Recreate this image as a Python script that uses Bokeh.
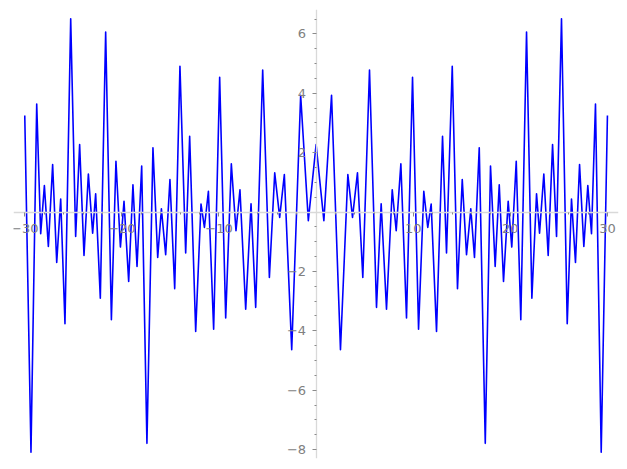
import numpy as np
from bokeh.plotting import figure
from bokeh.models import LinearAxis, FixedTicker
from bokeh.embed import file_html
from bokeh.resources import INLINE

# Local extrema of the (even) curve for x >= 0
x_half = [0.0, 0.80, 1.59, 2.51, 3.27, 3.75, 4.26, 4.81, 5.50, 6.22,
          6.70, 7.25, 7.84, 8.25, 8.73, 9.31, 9.93, 10.55, 11.09, 11.50,
          11.85, 12.40, 13.02, 13.43, 14.02, 14.56, 15.05, 15.49, 15.93, 16.31,
          16.80, 17.42, 17.96, 18.44, 18.86, 19.30, 19.78, 20.15, 20.61, 21.08,
          21.67, 22.22, 22.70, 23.01, 23.45, 23.90, 24.35, 24.76, 25.27, 25.86,
          26.30, 26.71, 27.13, 27.57, 27.98, 28.36, 28.77, 29.36, 30.0]
y_half = [2.27, -0.29, 3.93, -4.64, 1.26, -0.18, 1.32, -2.20, 4.78, -3.21,
          0.28, -3.27, 0.75, -0.63, 1.62, -3.57, 4.54, -3.95, 0.70, -0.52,
          0.27, -4.02, 2.55, -1.38, 4.91, -2.58, 1.09, -1.44, 0.11, -1.53,
          2.16, -7.79, 1.55, -1.83, 0.92, -2.34, 0.36, -1.18, 1.71, -3.63,
          6.06, -2.90, 0.61, -0.71, 1.28, -1.46, 2.27, -0.82, 6.51, -3.76,
          0.44, -1.70, 1.60, -1.16, 0.89, -0.73, 3.64, -8.09, 3.25]

x_ticks = [-30, -20, -10, 10, 20, 30]
x_minor = [-28, -26, -24, -22, -18, -16, -14, -12, -8, -6, -4, -2,
           2, 4, 6, 8, 12, 14, 16, 18, 22, 24, 26, 28]
y_ticks = [-8, -6, -4, -2, 2, 4, 6]
y_minor = [v / 2 for v in range(-16, 14) if v % 4 != 0]

# the curve is symmetric about x = 0
xs = np.concatenate([-np.array(x_half[:0:-1]), np.array(x_half)])
ys = np.concatenate([np.array(y_half[:0:-1]), np.array(y_half)])

p = figure(width=619, height=461, x_range=(-31.16, 31.14), y_range=(-8.30, 6.82),
           output_backend="svg", toolbar_location=None,
           x_axis_location=None, y_axis_location=None,
           min_border_left=13, min_border_right=1, min_border_top=9, min_border_bottom=3)
p.grid.visible = False
p.outline_line_color = None
p.background_fill_color = "white"

def style(ax):
    ax.axis_line_color = "#d9d9d9"
    ax.axis_line_width = 1.3
    ax.major_tick_line_color = "#8a8a8a"
    ax.minor_tick_line_color = "#8a8a8a"
    ax.major_tick_in = 0
    ax.major_tick_out = 4
    ax.minor_tick_in = 0
    ax.minor_tick_out = 2
    ax.major_label_text_color = "#808080"
    ax.major_label_text_font = "DejaVu Sans"
    ax.major_label_text_font_size = "13px"

def lbl(v):
    return ("\u2212" + str(-v)) if v < 0 else str(v)

xaxis = LinearAxis(fixed_location=0, ticker=FixedTicker(ticks=x_ticks, minor_ticks=x_minor),
                   major_label_overrides={v: lbl(v) for v in x_ticks})
style(xaxis)
xaxis.major_label_standoff = 8
p.add_layout(xaxis, "below")

yaxis = LinearAxis(fixed_location=0, ticker=FixedTicker(ticks=y_ticks, minor_ticks=y_minor),
                   major_label_overrides={v: lbl(v) for v in y_ticks})
style(yaxis)
yaxis.major_label_standoff = 6
p.add_layout(yaxis, "left")

p.line(xs, ys, line_color="#0000ff", line_width=1.6, line_join="round")

open("out.html", "w").write(file_html(p, INLINE))
